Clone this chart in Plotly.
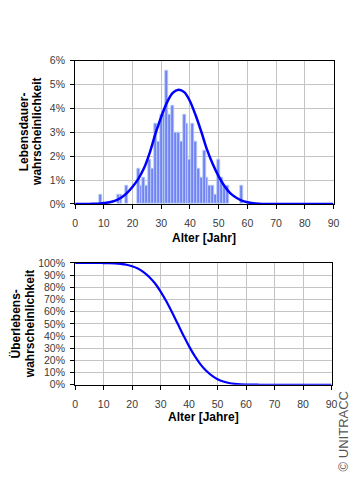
import plotly.graph_objects as go

# ---- data ----
alter_hist = [9, 15, 16, 18, 22, 23, 24, 25, 26, 27, 28, 29, 30, 31, 32, 33, 34, 35,
              36, 37, 38, 39, 40, 41, 42, 43, 44, 45, 46, 47, 48, 49, 50, 51, 52, 53, 58]
lebensdauer_pct = [0.37, 0.37, 0.37, 0.75, 1.49, 0.75, 1.11, 0.75, 1.87, 1.49, 3.36, 2.61,
                   3.73, 3.73, 5.60, 3.73, 4.10, 2.99, 2.99, 2.61, 3.73, 3.36, 1.87, 3.36,
                   2.61, 1.49, 1.11, 2.24, 1.11, 0.75, 0.75, 0.37, 1.87, 1.11, 0.75, 0.75, 0.75]

alter_kurve = [0, 2, 4, 6, 8, 10, 12, 14, 16, 18, 20, 22, 24, 26, 28, 30, 32, 34, 36, 38,
               40, 42, 44, 46, 48, 50, 52, 54, 56, 58, 60, 62, 64, 66, 68, 70, 75, 80, 85, 90]
dichte_pct = [0, 0, 0, 0.003, 0.01, 0.035, 0.07, 0.14, 0.26, 0.45, 0.72, 1.05, 1.5, 2.15,
              2.95, 3.65, 4.25, 4.65, 4.78, 4.68, 4.3, 3.7, 3.0, 2.25, 1.65, 1.15, 0.75,
              0.45, 0.27, 0.14, 0.07, 0.03, 0.01, 0, 0, 0, 0, 0, 0, 0]
ueberleben_pct = [100, 100, 100, 100, 100, 99.9, 99.8, 99.6, 99.2, 98.5, 97.3, 95.4, 92.5,
                  88.5, 83.3, 76.5, 68.5, 59.5, 50, 40.5, 31.5, 23.5, 16.8, 11.5, 7.5, 4.6,
                  2.7, 1.5, 0.8, 0.4, 0.2, 0.1, 0.05, 0, 0, 0, 0, 0, 0, 0]

x_ticks = [0, 10, 20, 30, 40, 50, 60, 70, 80, 90]
y1_ticks = [0, 1, 2, 3, 4, 5, 6]
y2_ticks = [0, 10, 20, 30, 40, 50, 60, 70, 80, 90, 100]

FONT = "Liberation Sans, Arial, sans-serif"
W, H = 360, 480

fig = go.Figure()
fig.add_trace(go.Bar(x=alter_hist, y=lebensdauer_pct, width=1.0,
                     marker=dict(color="#7480f6", line=dict(color="#b9d3f2", width=0.8)),
                     xaxis="x", yaxis="y", showlegend=False))
fig.add_trace(go.Scatter(x=alter_kurve, y=dichte_pct, mode="lines",
                         line=dict(color="#0000ff", width=2.5, shape="spline"),
                         xaxis="x", yaxis="y", showlegend=False))
fig.add_trace(go.Scatter(x=alter_kurve, y=ueberleben_pct, mode="lines",
                         line=dict(color="#0000ff", width=2.2, shape="spline"),
                         xaxis="x2", yaxis="y2", showlegend=False))

common_axis = dict(showgrid=True, gridcolor="#c4c4c4", gridwidth=1, zeroline=False,
                   showline=True, linecolor="#000000", linewidth=1, mirror=True,
                   ticks="outside", ticklen=4, tickcolor="#000000", tickmode="array",
                   tickfont=dict(family=FONT, size=10.5, color="#3a3a3a"))

x1_dom = [74 / W, 339 / W]
x2_dom = [74 / W, 337 / W]
y1_dom = [1 - 203 / H, 1 - 56 / H]
y2_dom = [1 - 388.5 / H, 1 - 263.5 / H]

fig.update_layout(
    width=W, height=H,
    margin=dict(l=0, r=0, t=0, b=0),
    paper_bgcolor="white", plot_bgcolor="white",
    bargap=0,
    xaxis=dict(domain=x1_dom, range=[0, 90], tickvals=x_ticks,
               ticktext=[str(v) for v in x_ticks], anchor="y",
               ticklabelstandoff=5, **common_axis),
    yaxis=dict(domain=y1_dom, range=[0, 6], tickvals=y1_ticks,
               ticktext=[f"{v}%" for v in y1_ticks],
               anchor="x", ticklabelstandoff=3, **common_axis),
    xaxis2=dict(domain=x2_dom, range=[0, 90], tickvals=x_ticks,
                ticktext=[str(v) for v in x_ticks], anchor="y2",
                ticklabelstandoff=6, **common_axis),
    yaxis2=dict(domain=y2_dom, range=[0, 100], tickvals=y2_ticks,
                ticktext=[f"{v}%" for v in y2_ticks],
                anchor="x2", ticklabelstandoff=3, **common_axis),
)

title_font = dict(family=FONT, size=12, color="#000000")
ann = [
    dict(text="<b>Alter [Jahr]</b>", x=206 / W, y=1 - 238 / H),
    dict(text="<b>Alter [Jahre]</b>", x=206 / W, y=1 - 422 / H),
    dict(text="<b>Lebensdauer-</b>", x=21 / W, y=1 - 129 / H, textangle=-90),
    dict(text="<b>wahrscheinlichkeit</b>", x=35 / W, y=1 - 129 / H, textangle=-90),
    dict(text="<b>Überlebens-</b>", x=13 / W, y=1 - 326 / H, textangle=-90),
    dict(text="<b>wahrscheinlichkeit</b>", x=28 / W, y=1 - 326 / H, textangle=-90),
]
for a in ann:
    fig.add_annotation(xref="paper", yref="paper", showarrow=False,
                       xanchor="center", yanchor="middle", font=title_font, **a)

fig.add_annotation(xref="paper", yref="paper", showarrow=False, text="© UNITRACC",
                   x=349 / W, y=1 - 436 / H, xanchor="center", yanchor="middle",
                   textangle=-90, font=dict(family=FONT, size=13, color="#555555"))

fig.write_html("out.html", config={"displayModeBar": False},
               post_script="document.body.style.margin='0';document.body.style.overflow='hidden';")
